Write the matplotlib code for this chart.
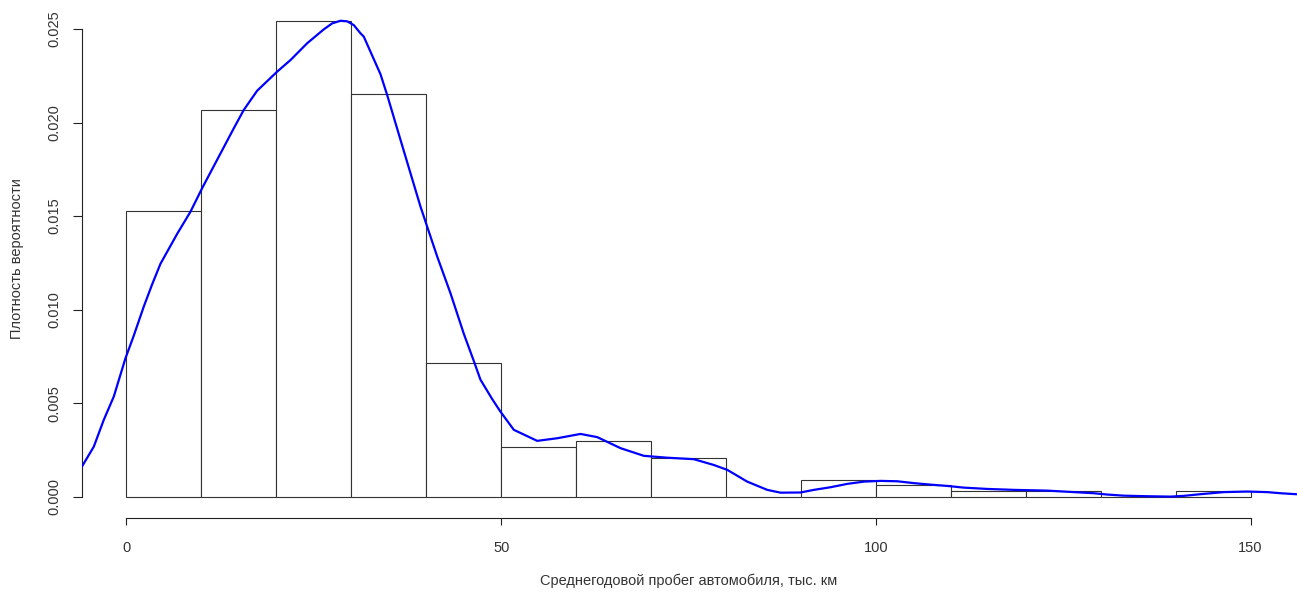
import numpy as np
import matplotlib
matplotlib.use("Agg")
import matplotlib.pyplot as plt

plt.rcParams['font.family'] = ['Liberation Sans', 'DejaVu Sans']

# Histogram (density scale), bin edges every 10 thousand km
bin_edges = [0, 10, 20, 30, 40, 50, 60, 70, 80, 90, 100, 110, 120, 130, 140, 150]
bin_density = [0.01527, 0.02067, 0.02544, 0.02153, 0.00716, 0.00267, 0.00299,
               0.00205, 0.0, 0.00087, 0.00060, 0.00028, 0.00028, 0.0, 0.00028]

# Kernel density curve
kde_x = [-6.01, -4.36, -3.03, -1.69, -0.13, 0.97, 2.31, 3.43, 4.54, 6.77, 8.54,
         10.10, 14.32, 15.65, 17.44, 20.11, 21.89, 24.12, 26.33, 27.45, 28.56,
         29.45, 30.33, 31.23, 31.67, 33.90, 34.79, 36.57, 37.90, 39.24, 40.13,
         41.47, 43.24, 45.02, 46.35, 47.24, 48.81, 49.91, 51.69, 54.81, 57.48,
         60.59, 62.82, 65.93, 69.04, 72.16, 75.71, 78.38, 80.17, 82.84, 85.51,
         87.28, 89.95, 91.73, 93.95, 96.18, 98.40, 100.63, 102.86, 105.07,
         107.30, 109.53, 111.74, 114.87, 118.42, 122.87, 125.98, 129.09, 130.88,
         133.10, 136.22, 139.34, 141.11, 143.33, 146.45, 149.57, 152.23, 154.01,
         156.01, 156.5]
kde_y = [0.00156, 0.00267, 0.00410, 0.00535, 0.00740, 0.00860, 0.01016, 0.01135,
         0.01245, 0.01405, 0.01523, 0.01649, 0.01969, 0.02067, 0.02170, 0.02272,
         0.02334, 0.02424, 0.02498, 0.02530, 0.02544, 0.02541, 0.02521, 0.02477,
         0.02459, 0.02258, 0.02147, 0.01907, 0.01729, 0.01550, 0.01443, 0.01283,
         0.01087, 0.00870, 0.00725, 0.00625, 0.00521, 0.00454, 0.00357, 0.00298,
         0.00312, 0.00335, 0.00318, 0.00259, 0.00218, 0.00208, 0.00200, 0.00169,
         0.00143, 0.00080, 0.00036, 0.00021, 0.00022, 0.00036, 0.00050, 0.00068,
         0.00080, 0.00084, 0.00082, 0.00072, 0.00064, 0.00057, 0.00048, 0.00041,
         0.00036, 0.00032, 0.00025, 0.00018, 0.00011, 0.00005, 0.00002, 0.00000,
         0.00004, 0.00013, 0.00024, 0.00027, 0.00024, 0.00018, 0.00013, 0.00012]

x_ticks = [0, 50, 100, 150]
y_ticks = [0.000, 0.005, 0.010, 0.015, 0.020, 0.025]
y_ticklabels = ["0.000", "0.005", "0.010", "0.015", "0.020", "0.025"]
x_label = "Среднегодовой пробег автомобиля, тыс. км"
y_label = "Плотность вероятности"

W, H = 1297, 594
fig = plt.figure(figsize=(W / 100, H / 100), dpi=100)
ax_left, ax_bottom, ax_right, ax_top = 81.5, 518.3, 1297, 0
ax = fig.add_axes([ax_left / W, (H - ax_bottom) / H,
                   (ax_right - ax_left) / W, (ax_bottom - ax_top) / H])

edges = np.array(bin_edges)
ax.bar(edges[:-1], bin_density, width=np.diff(edges), align='edge',
       facecolor='white', edgecolor='#333333', linewidth=0.8, zorder=2)
ax.plot(kde_x, kde_y, color='#0000ff', linewidth=1.6, zorder=3,
        solid_joinstyle='round', solid_capstyle='round')

ax.set_xlim(-6.0, 156.2)
ax.set_ylim(-0.00116, 0.02655)

for s in ['top', 'right']:
    ax.spines[s].set_visible(False)
ax.spines['left'].set_bounds(0, 0.025)
ax.spines['bottom'].set_bounds(0, 150)
for s in ['left', 'bottom']:
    ax.spines[s].set_linewidth(0.8)
    ax.spines[s].set_color('#222222')

ax.set_xticks(x_ticks)
ax.set_xticklabels([str(v) for v in x_ticks])
ax.set_yticks(y_ticks)
ax.set_yticklabels(y_ticklabels, rotation=90, va='center')
ax.tick_params(axis='x', length=5.2, width=0.8, pad=11, labelsize=10.5,
               colors='#222222', labelcolor='#333333')
ax.tick_params(axis='y', length=6.5, width=0.8, pad=8, labelsize=10.5,
               colors='#222222', labelcolor='#333333')

fig.text(689 / W, 1 - 581 / H, x_label, ha='center', va='center',
         fontsize=10.5, color='#333333')
fig.text(17 / W, 1 - 259 / H, y_label, ha='center', va='center',
         rotation=90, fontsize=10.5, color='#333333')

fig.savefig("out.png", dpi=100)
